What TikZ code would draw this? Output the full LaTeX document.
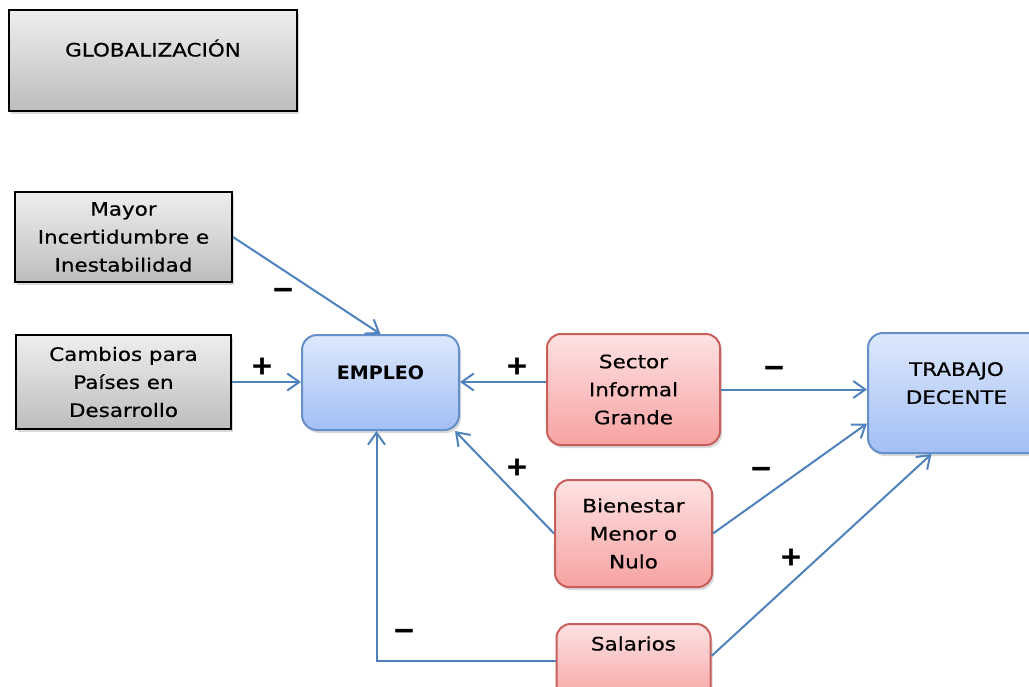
\documentclass[tikz,border=0pt]{standalone}
\usepackage{fontspec}
\setmainfont{DejaVu Sans}[FakeStretch=1.16,UprightFeatures={FakeBold=0.5},BoldFeatures={FakeStretch=1.03}]
\usetikzlibrary{arrows.meta,positioning,calc,shadows}
\definecolor{glline}{HTML}{4F81BD}
\definecolor{glgraytop}{HTML}{EEEEEE}
\definecolor{glgraybot}{HTML}{BDBDBD}
\definecolor{glbluetop}{HTML}{DDE8FC}
\definecolor{glbluebot}{HTML}{A3BFF5}
\definecolor{glblueedge}{HTML}{6590C9}
\definecolor{glredtop}{HTML}{FDE2E2}
\definecolor{glredbot}{HTML}{F7A2A2}
\definecolor{glrededge}{HTML}{C95E5C}

\begin{document}
\begin{tikzpicture}[x=1pt,y=-1pt, every node/.style={font=\fontsize{18.5}{28}\selectfont,align=center,text=black}]
\tikzset{graybox/.style={draw=black,line width=2pt,top color=glgraytop,bottom color=glgraybot,drop shadow={shadow xshift=2pt,shadow yshift=-3pt,opacity=.3}},
  bluebox/.style={draw=glblueedge,line width=2pt,rounded corners=15pt,top color=glbluetop,bottom color=glbluebot,drop shadow={shadow xshift=2pt,shadow yshift=-3pt,opacity=.3}},
  redbox/.style={draw=glrededge,line width=2pt,rounded corners=14pt,top color=glredtop,bottom color=glredbot,drop shadow={shadow xshift=2pt,shadow yshift=-3pt,opacity=.3}},
  conn/.style={draw=glline,line width=2pt,-{Straight Barb[length=12pt,width=17pt]}},
  sign/.style={font=\fontsize{26}{26}\selectfont\bfseries\addfontfeatures{FakeBold=1.5},inner sep=0pt}}
\useasboundingbox (0,0) rectangle (1029,686);
\node[graybox,minimum width=288pt,minimum height=101pt,text height=13pt,text depth=21pt] (glob) at (153,60.5) {GLOBALIZACIÓN};
\node[graybox,minimum width=217pt,minimum height=90pt,inner sep=0pt] (mayor) at (123.5,237) {Mayor\\Incertidumbre e\\Inestabilidad};
\node[graybox,minimum width=215pt,minimum height=94pt,inner sep=0pt,below=51pt of mayor] (cambios) {Cambios para\\Países en\\Desarrollo};
\node[bluebox,minimum width=157pt,minimum height=95pt,text height=13pt,text depth=19pt] (empleo) at (380.5,382.5) {\bfseries EMPLEO};
\node[redbox,minimum width=173pt,minimum height=111pt,inner sep=0pt] (sector) at (633.5,389.5) {Sector\\Informal\\Grande};
\node[redbox,minimum width=157pt,minimum height=107pt,inner sep=0pt,below=33pt of sector] (bienestar) {Bienestar\\Menor o\\Nulo};
\node[redbox,minimum width=154pt,minimum height=80pt,text height=13pt,text depth=40pt,below=35pt of bienestar] (salarios) {Salarios};
\node[bluebox,minimum width=177pt,minimum height=120pt,text depth=20pt] (trabajo) at (956.5,393) {TRABAJO\\DECENTE};
\draw[conn] (mayor.east) -- (empleo.north);
\draw[conn] (cambios.east) -- (cambios.east -| empleo.west);
\draw[conn] (sector.west |- cambios.east) -- (cambios.east -| empleo.east);
\draw[conn] (bienestar.west) -- ([xshift=-5pt]empleo.south east);
\draw[conn] ([yshift=3pt]salarios.west) -| ([xshift=-4pt]empleo.south);
\draw[conn] (sector.east) -- (sector.east -| trabajo.west);
\draw[conn] (bienestar.east) -- ($(trabajo.west)!0.5!(trabajo.south west)$);
\draw[conn] ([yshift=8pt]salarios.east) -- ([xshift=-25pt]trabajo.south);
\node[sign] (mayorsign) at (283,293) {−};
\node[sign] (cambiossign) at (262,366) {+};
\node[sign] (sectorsign) at (517,366) {+};
\node[sign] (bienestarsign) at (517,467) {+};
\node[sign] (salariossign) at (404,634) {−};
\node[sign] (informalsign) at (774,371) {−};
\node[sign] (menorsign) at (761,472) {−};
\node[sign] (decentesign) at (791,557) {+};
\end{tikzpicture}
\end{document}
